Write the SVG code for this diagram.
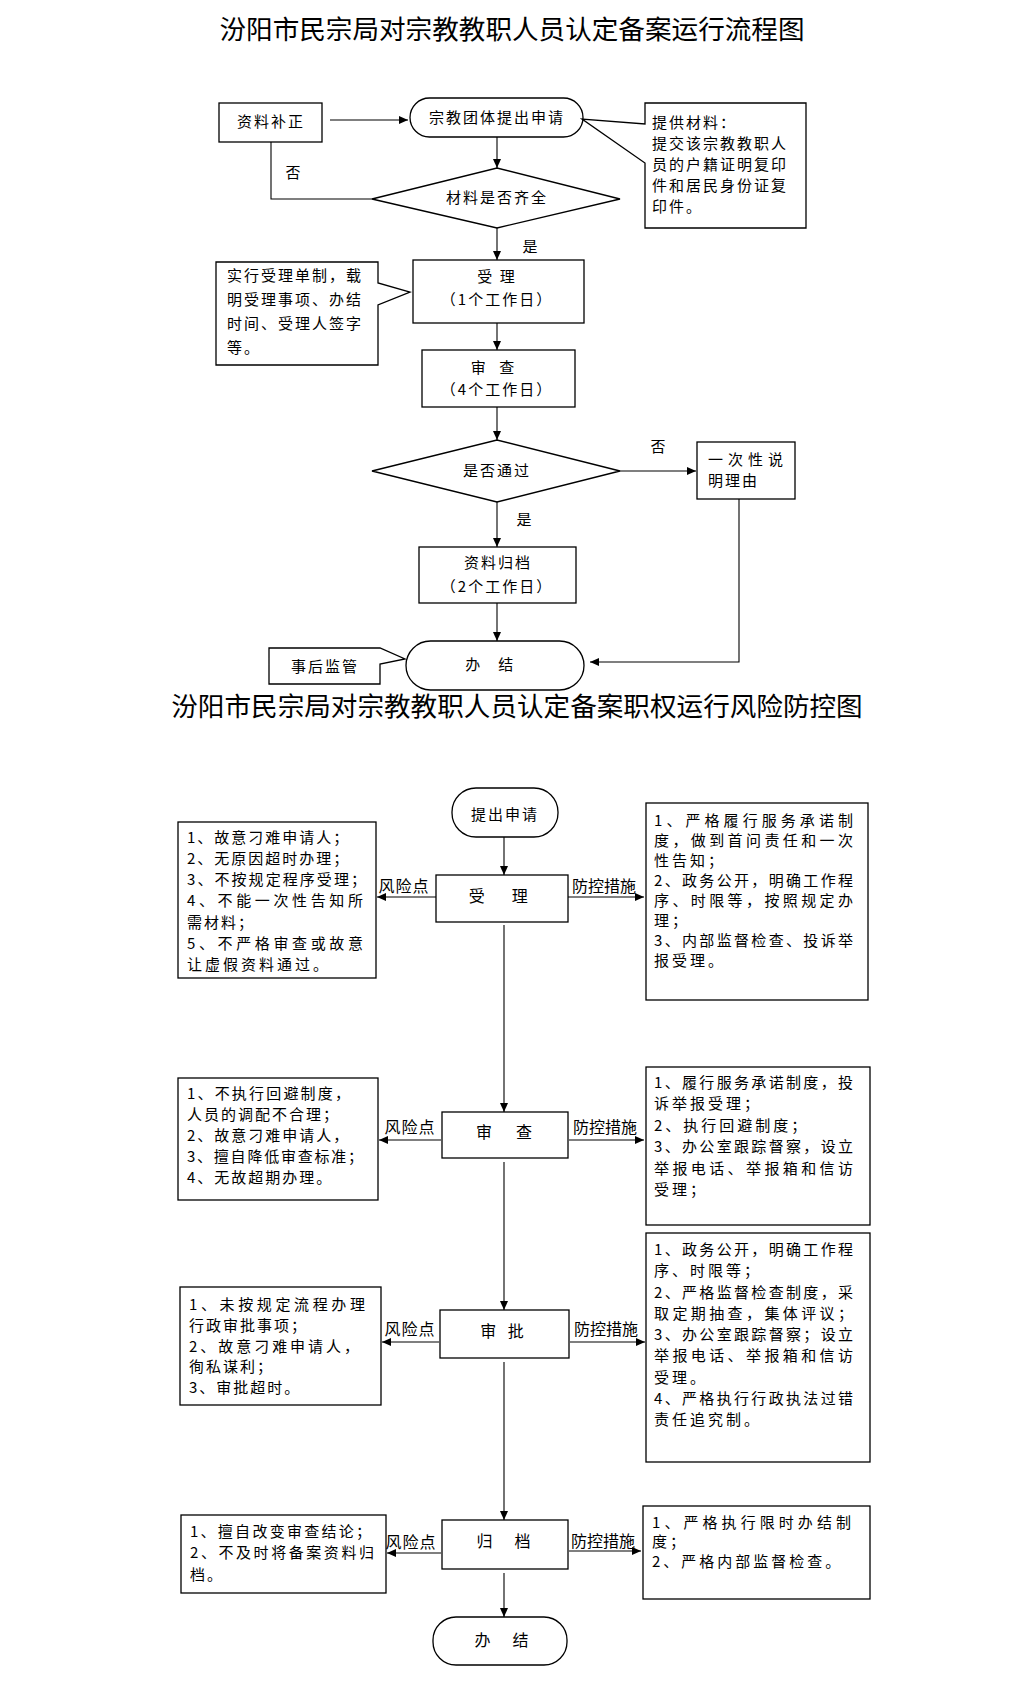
<svg xmlns="http://www.w3.org/2000/svg" width="1022" height="1686" viewBox="0 0 1022 1686">
<style>
.t{font-family:"Noto Sans CJK SC","Noto Sans",sans-serif;fill:#000}
.title{font-size:26.6px}
.s{font-size:15px;letter-spacing:2px}
.m{font-size:16px;letter-spacing:2px}
.l{font-size:15px;letter-spacing:2px}
.r{font-size:15px;letter-spacing:3px}
.j{letter-spacing:0}
.c{text-anchor:middle}
.box{fill:#fff;stroke:#000;stroke-width:1.3}
.ln{fill:none;stroke:#000;stroke-width:1.1}
</style>
<defs>
<marker id="ar" markerUnits="userSpaceOnUse" markerWidth="9" markerHeight="8" refX="9" refY="4" orient="auto">
<path d="M0,0 L9,4 L0,8 z" fill="#000"/>
</marker>
</defs>
<rect width="1022" height="1686" fill="#fff"/>

<text class="t title c" x="512" y="39">汾阳市民宗局对宗教教职人员认定备案运行流程图</text>
<text class="t title c" x="517" y="716">汾阳市民宗局对宗教教职人员认定备案职权运行风险防控图</text>

<g id="connectors">
<line class="ln" x1="330" y1="120" x2="408" y2="120" marker-end="url(#ar)"/>
<line class="ln" x1="497" y1="137" x2="497" y2="168" marker-end="url(#ar)"/>
<polyline class="ln" points="372,199 271,199 271,142"/>
<line class="ln" x1="497" y1="228" x2="497" y2="260" marker-end="url(#ar)"/>
<line class="ln" x1="497" y1="323" x2="497" y2="350" marker-end="url(#ar)"/>
<line class="ln" x1="497" y1="407" x2="497" y2="440" marker-end="url(#ar)"/>
<line class="ln" x1="620" y1="471" x2="696" y2="471" marker-end="url(#ar)"/>
<line class="ln" x1="497" y1="502" x2="497" y2="547" marker-end="url(#ar)"/>
<line class="ln" x1="497" y1="603" x2="497" y2="641" marker-end="url(#ar)"/>
<polyline class="ln" points="739,499 739,662 590,662" marker-end="url(#ar)"/>

<line class="ln" x1="504" y1="837" x2="504" y2="875" marker-end="url(#ar)"/>
<line class="ln" x1="504" y1="925" x2="504" y2="1112" marker-end="url(#ar)"/>
<line class="ln" x1="504" y1="1162" x2="504" y2="1310" marker-end="url(#ar)"/>
<line class="ln" x1="504" y1="1362" x2="504" y2="1520" marker-end="url(#ar)"/>
<line class="ln" x1="504" y1="1573" x2="504" y2="1617" marker-end="url(#ar)"/>

<line class="ln" x1="436" y1="897" x2="377" y2="897" marker-end="url(#ar)"/>
<line class="ln" x1="568" y1="897" x2="644" y2="897" marker-end="url(#ar)"/>
<line class="ln" x1="441" y1="1140" x2="379" y2="1140" marker-end="url(#ar)"/>
<line class="ln" x1="569" y1="1140" x2="644" y2="1140" marker-end="url(#ar)"/>
<line class="ln" x1="439" y1="1342" x2="382" y2="1342" marker-end="url(#ar)"/>
<line class="ln" x1="570" y1="1342" x2="645" y2="1342" marker-end="url(#ar)"/>
<line class="ln" x1="441" y1="1553" x2="387" y2="1553" marker-end="url(#ar)"/>
<line class="ln" x1="569" y1="1551" x2="641" y2="1551" marker-end="url(#ar)"/>
</g>

<text class="t s c" x="294" y="178">否</text>
<text class="t s c" x="531" y="252">是</text>
<text class="t s c" x="659" y="452">否</text>
<text class="t s c" x="525" y="525">是</text>

<g id="n-zlbz">
<rect class="box" x="219" y="103" width="103" height="39"/>
<text class="t s c" x="271" y="127">资料补正</text>
</g>
<g id="n-tcsq">
<rect class="box" x="410" y="98" width="173" height="39" rx="19.5"/>
<text class="t s c" x="497" y="123">宗教团体提出申请</text>
</g>
<g id="n-tgcl">
<path class="box" d="M645,103 H806 V228 H645 V163 L582,119 L645,124 Z"/>
<text class="t s" x="652" y="128">提供材料：</text>
<text class="t s" x="652" y="149">提交该宗教教职人</text>
<text class="t s" x="652" y="170">员的户籍证明复印</text>
<text class="t s" x="652" y="191">件和居民身份证复</text>
<text class="t s" x="652" y="212">印件。</text>
</g>
<g id="n-clsf">
<polygon class="box" points="372,199 497,168 620,199 497,228"/>
<text class="t s c" x="497" y="203">材料是否齐全</text>
</g>
<g id="n-sl">
<rect class="box" x="413" y="260" width="171" height="63"/>
<text class="t s c" x="497" y="282">受 理</text>
<text class="t s c" x="497" y="305">（1个工作日）</text>
</g>
<g id="n-slnote">
<path class="box" d="M216,262 H378 V283 L410,292 L378,305 V365 H216 Z"/>
<text class="t s" x="227" y="281">实行受理单制，载</text>
<text class="t s" x="227" y="305">明受理事项、办结</text>
<text class="t s" x="227" y="329">时间、受理人签字</text>
<text class="t s" x="227" y="353">等。</text>
</g>
<g id="n-sc">
<rect class="box" x="422" y="350" width="153" height="57"/>
<text class="t s c" x="495" y="373" style="letter-spacing:5px">审 查</text>
<text class="t s c" x="497" y="395">（4个工作日）</text>
</g>
<g id="n-sftg">
<polygon class="box" points="372,471 497,440 620,471 497,502"/>
<text class="t s c" x="497" y="476">是否通过</text>
</g>
<g id="n-ycx">
<rect class="box" x="697" y="442" width="98" height="57"/>
<text class="t s j" x="708" y="465" textLength="75" lengthAdjust="spacing">一次性说</text>
<text class="t s" x="708" y="486">明理由</text>
</g>
<g id="n-zlgd">
<rect class="box" x="419" y="547" width="157" height="56"/>
<text class="t s c" x="498" y="568">资料归档</text>
<text class="t s c" x="497" y="592">（2个工作日）</text>
</g>
<g id="n-bj1">
<rect class="box" x="406" y="641" width="178" height="49" rx="24.5"/>
<text class="t s c" x="490" y="670" style="letter-spacing:1.5px">办　结</text>
</g>
<g id="n-shjg">
<path class="box" d="M269,648 H380 L405,659 L380,664 V684 H269 Z"/>
<text class="t s c" x="325" y="672">事后监管</text>
</g>

<g id="n-tcsq2">
<rect class="box" x="452" y="788" width="106" height="49" rx="24"/>
<text class="t s c" x="505" y="820">提出申请</text>
</g>
<g id="n-sl2">
<rect class="box" x="436" y="875" width="132" height="47"/>
<text class="t m c" x="501" y="902" style="letter-spacing:5.5px">受　理</text>
<text class="t m c" x="404" y="892" style="letter-spacing:1px">风险点</text>
<text class="t m c" x="604" y="892" style="letter-spacing:0">防控措施</text>
</g>
<g id="n-risk1">
<rect class="box" x="178" y="822" width="198" height="156"/>
<text class="t l" x="187" y="843">1、故意刁难申请人；</text>
<text class="t l" x="187" y="864">2、无原因超时办理；</text>
<text class="t l j" x="187" y="885" textLength="179" lengthAdjust="spacing">3、不按规定程序受理；</text>
<text class="t l j" x="187" y="906" textLength="176" lengthAdjust="spacing">4、不能一次性告知所</text>
<text class="t l" x="187" y="928">需材料；</text>
<text class="t l j" x="187" y="949" textLength="176" lengthAdjust="spacing">5、不严格审查或故意</text>
<text class="t l" x="187" y="970" style="letter-spacing:3px">让虚假资料通过。</text>
</g>
<g id="n-ctrl1">
<rect class="box" x="646" y="803" width="222" height="197"/>
<text class="t r j" x="654" y="826" textLength="199" lengthAdjust="spacing">1、严格履行服务承诺制</text>
<text class="t r j" x="654" y="846" textLength="199" lengthAdjust="spacing">度，做到首问责任和一次</text>
<text class="t r" x="654" y="866">性告知；</text>
<text class="t r j" x="654" y="886" textLength="199" lengthAdjust="spacing">2、政务公开，明确工作程</text>
<text class="t r j" x="654" y="906" textLength="199" lengthAdjust="spacing">序、时限等，按照规定办</text>
<text class="t r" x="654" y="926">理；</text>
<text class="t r j" x="654" y="946" textLength="199" lengthAdjust="spacing">3、内部监督检查、投诉举</text>
<text class="t r" x="654" y="966">报受理。</text>
</g>

<g id="n-sc2">
<rect class="box" x="442" y="1112" width="126" height="46"/>
<text class="t m c" x="506" y="1138" style="letter-spacing:4px">审　查</text>
<text class="t m c" x="410" y="1133" style="letter-spacing:1px">风险点</text>
<text class="t m c" x="605" y="1133" style="letter-spacing:0">防控措施</text>
</g>
<g id="n-risk2">
<rect class="box" x="178" y="1078" width="200" height="122"/>
<text class="t l j" x="187" y="1099" textLength="163" lengthAdjust="spacing">1、不执行回避制度，</text>
<text class="t l" x="187" y="1120">人员的调配不合理；</text>
<text class="t l" x="187" y="1141">2、故意刁难申请人，</text>
<text class="t l j" x="187" y="1162" textLength="176" lengthAdjust="spacing">3、擅自降低审查标准；</text>
<text class="t l" x="187" y="1183">4、无故超期办理。</text>
</g>
<g id="n-ctrl2">
<rect class="box" x="646" y="1067" width="224" height="158"/>
<text class="t r j" x="654" y="1088" textLength="199" lengthAdjust="spacing">1、履行服务承诺制度，投</text>
<text class="t r" x="654" y="1109">诉举报受理；</text>
<text class="t r" x="654" y="1131">2、执行回避制度；</text>
<text class="t r j" x="654" y="1152" textLength="199" lengthAdjust="spacing">3、办公室跟踪督察，设立</text>
<text class="t r j" x="654" y="1174" textLength="199" lengthAdjust="spacing">举报电话、举报箱和信访</text>
<text class="t r" x="654" y="1195">受理；</text>
</g>

<g id="n-sp">
<rect class="box" x="440" y="1310" width="129" height="48"/>
<text class="t m c" x="504" y="1337" style="letter-spacing:4px">审 批</text>
<text class="t m c" x="410" y="1335" style="letter-spacing:1px">风险点</text>
<text class="t m c" x="606" y="1335" style="letter-spacing:0">防控措施</text>
</g>
<g id="n-risk3">
<rect class="box" x="180" y="1287" width="201" height="118"/>
<text class="t l j" x="189" y="1310" textLength="176" lengthAdjust="spacing">1、未按规定流程办理</text>
<text class="t l" x="189" y="1331">行政审批事项；</text>
<text class="t l j" x="189" y="1352" textLength="170" lengthAdjust="spacing">2、故意刁难申请人，</text>
<text class="t l" x="189" y="1372">徇私谋利；</text>
<text class="t l" x="189" y="1393">3、审批超时。</text>
</g>
<g id="n-ctrl3">
<rect class="box" x="646" y="1233" width="224" height="229"/>
<text class="t r j" x="654" y="1255" textLength="199" lengthAdjust="spacing">1、政务公开，明确工作程</text>
<text class="t r" x="654" y="1276">序、时限等；</text>
<text class="t r j" x="654" y="1298" textLength="199" lengthAdjust="spacing">2、严格监督检查制度，采</text>
<text class="t r j" x="654" y="1319" textLength="199" lengthAdjust="spacing">取定期抽查，集体评议；</text>
<text class="t r j" x="654" y="1340" textLength="199" lengthAdjust="spacing">3、办公室跟踪督察；设立</text>
<text class="t r j" x="654" y="1361" textLength="199" lengthAdjust="spacing">举报电话、举报箱和信访</text>
<text class="t r" x="654" y="1383">受理。</text>
<text class="t r j" x="654" y="1404" textLength="199" lengthAdjust="spacing">4、严格执行行政执法过错</text>
<text class="t r" x="654" y="1425">责任追究制。</text>
</g>

<g id="n-gd">
<rect class="box" x="442" y="1520" width="126" height="49"/>
<text class="t m c" x="505" y="1547" style="letter-spacing:3px">归　档</text>
<text class="t m c" x="411" y="1548" style="letter-spacing:1px">风险点</text>
<text class="t m c" x="603" y="1547" style="letter-spacing:0">防控措施</text>
</g>
<g id="n-risk4">
<rect class="box" x="181" y="1515" width="205" height="78"/>
<text class="t l j" x="190" y="1537" textLength="181" lengthAdjust="spacing">1、擅自改变审查结论；</text>
<text class="t l j" x="190" y="1558" textLength="184" lengthAdjust="spacing">2、不及时将备案资料归</text>
<text class="t l" x="190" y="1580">档。</text>
</g>
<g id="n-ctrl4">
<rect class="box" x="643" y="1506" width="227" height="93"/>
<text class="t r j" x="652" y="1528" textLength="199" lengthAdjust="spacing">1、严格执行限时办结制</text>
<text class="t r" x="652" y="1547">度；</text>
<text class="t r" x="652" y="1567">2、严格内部监督检查。</text>
</g>
<g id="n-bj2">
<rect class="box" x="433" y="1617" width="134" height="48" rx="23"/>
<text class="t m c" x="503" y="1646" style="letter-spacing:3px">办　结</text>
</g>
</svg>
